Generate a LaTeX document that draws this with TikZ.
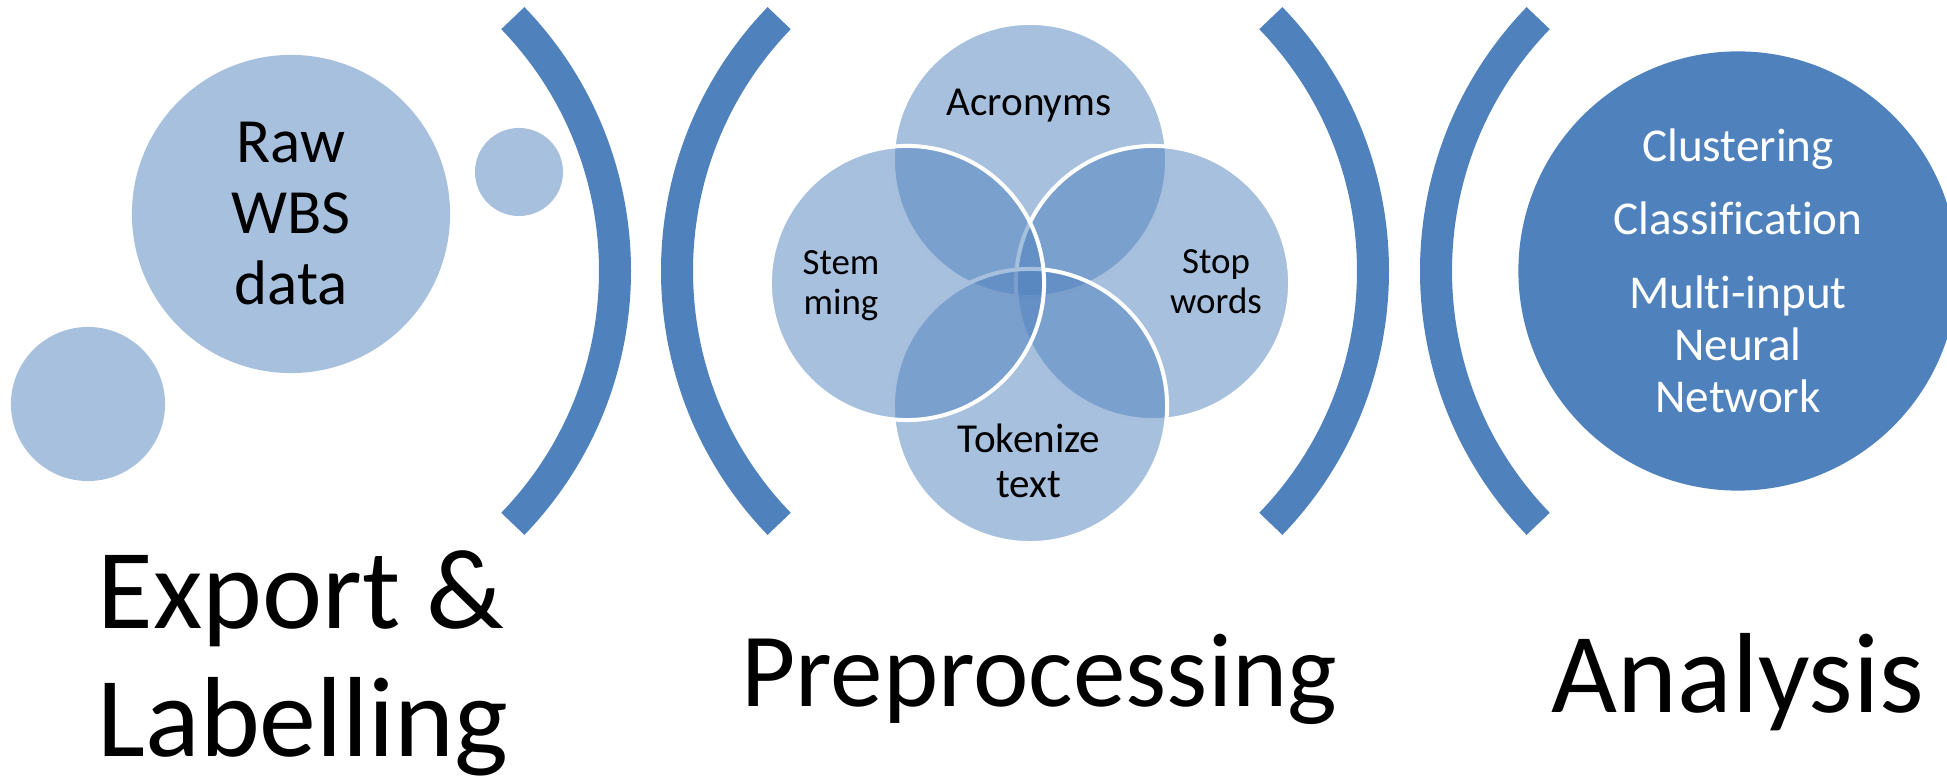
\documentclass[tikz,border=0pt]{standalone}
\usepackage{fontspec}
\setmainfont{Carlito}[Ligatures=CommonOff]
\usepackage{tikz}

\definecolor{accent}{HTML}{4F81BD}
\colorlet{paleacc}{accent!50!white}

\begin{document}
\begin{tikzpicture}[x=0.01cm, y=0.01cm,
    bracket/.style={draw=accent, line width=0.32cm},
    bubble/.style={circle, fill=paleacc, inner sep=0pt},
    venn/.style={circle, minimum size=2.74cm, fill=accent, fill opacity=0.5,
      draw=white, line width=0.04cm},
    stage/.style={font=\fontsize{32.4}{36.4}\selectfont, inner sep=0pt},
    small/.style={font=\fontsize{10.5}{11.4}\selectfont, align=center, inner sep=0pt},
    medium/.style={font=\fontsize{11.7}{12.7}\selectfont, align=center, inner sep=0pt}]
  \clip (0,0) rectangle (1947,782);

  % export stage
  \node[bubble, minimum size=3.18cm, align=center,
    font=\fontsize{17.9}{20.2}\selectfont] (raw) at (291,568) {Raw\\WBS\\data};
  \node[bubble, minimum size=1.54cm] (b1) at (88,378) {};
  \node[bubble, minimum size=0.88cm] (b2) at (519,610) {};

  % brackets
  \coordinate (c1) at (251,511);
  \coordinate (c2) at (1041,511);
  \coordinate (c3) at (1009,511);
  \coordinate (c4) at (1800,511);
  \draw[bracket] ([shift={(-44:364)}]c1) arc[start angle=-44, end angle=44, radius=364];
  \draw[bracket] ([shift={(136:364)}]c2) arc[start angle=136, end angle=224, radius=364];
  \draw[bracket] ([shift={(-44:364)}]c3) arc[start angle=-44, end angle=44, radius=364];
  \draw[bracket] ([shift={(136:364)}]c4) arc[start angle=136, end angle=224, radius=364];

  % preprocessing venn
  \node[venn] (acr) at (1030,622) {};
  \node[venn] (stop) at (1153,499) {};
  \node[venn] (tok) at (1030,376) {};
  \node[venn] (stem) at (907,499) {};
  \node[medium, anchor=base] (t1) at (1029,666) {Acronyms};
  \node[small] (t2) at (1216,500) {Stop\\words};
  \node[medium] (t3) at (1029,321) {Tokenize\\text};
  \node[small] (t4) at (841,496) {Stem\\ming};

  % analysis
  \node[circle, fill=accent, minimum size=4.39cm, inner sep=0pt, text=white, align=center,
    font=\fontsize{13.4}{14.9}\selectfont] (ana) at (1738,511)
    {Clustering\\[0.21cm]Classification\\[0.21cm]Multi-input\\Neural\\Network};

  % stage titles
  \node[stage, align=left, anchor=west] (s1) at (97,119) {Export \&\\Labelling};
  \node[stage, font=\fontsize{29.9}{33}\selectfont, anchor=base] (s2) at (1039,75) {Preprocessing};
  \node[stage, anchor=base] (s3) at (1738,69) {Analysis};
\end{tikzpicture}
\end{document}
